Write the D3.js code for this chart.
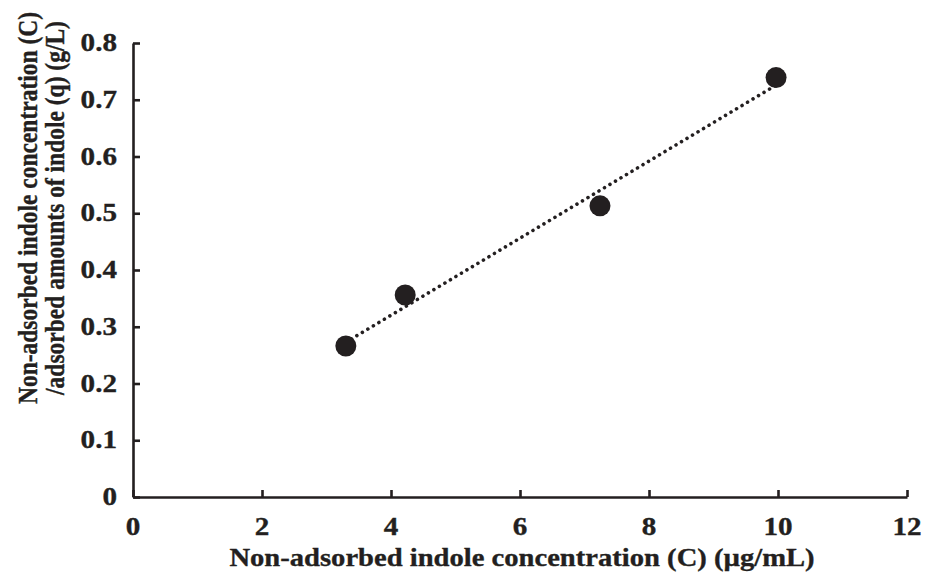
<!DOCTYPE html>
<html>
<head>
<meta charset="utf-8">
<script src="https://cdn.jsdelivr.net/npm/d3@7"></script>
<style>
  html, body { margin: 0; padding: 0; background: #fff; }
  svg { display: block; }
  text { font-family: "Liberation Serif", "Times New Roman", serif; font-weight: bold; fill: #231f20; stroke: #231f20; stroke-width: 0.35px; }
</style>
</head>
<body>
<svg id="chart" width="925" height="574"></svg>
<script>
// Measured concentrations (µg/mL) and C/q ratios (g/L)
const concentration = [3.30, 4.22, 7.24, 9.97];
const ratio = [0.266, 0.356, 0.513, 0.739];
const xTicks = [0, 2, 4, 6, 8, 10, 12];
const yTicks = [0, 0.1, 0.2, 0.3, 0.4, 0.5, 0.6, 0.7, 0.8];
const xTitle = "Non-adsorbed indole concentration (C) (µg/mL)";
const yTitleLines = ["Non-adsorbed indole concentration (C)", "/adsorbed amounts of indole (q) (g/L)"];

const ink = "#231f20";
const svg = d3.select("#chart");
const plot = { left: 133, right: 907, top: 43, bottom: 497 };

const x = d3.scaleLinear().domain([0, 12]).range([plot.left, plot.right]);
const y = d3.scaleLinear().domain([0, 0.8]).range([plot.bottom, plot.top]);

// Axes with ticks pointing into the plot
const xAxis = svg.append("g").attr("transform", `translate(0,${plot.bottom})`)
  .call(d3.axisTop(x).tickValues(xTicks).tickSize(7).tickSizeOuter(0).tickFormat(""));
const yAxis = svg.append("g").attr("transform", `translate(${plot.left},0)`)
  .call(d3.axisRight(y).tickValues(yTicks).tickSize(7).tickSizeOuter(0).tickFormat(""));
[xAxis, yAxis].forEach(g => {
  g.selectAll("path.domain").attr("stroke", ink).attr("stroke-width", 2.6);
  g.selectAll(".tick line").attr("stroke", ink).attr("stroke-width", 2.6);
});

// Tick labels
svg.append("g").selectAll("text").data(xTicks).join("text")
  .attr("transform", d => `translate(${x(d)},535) scale(1.12,1)`)
  .attr("text-anchor", "middle").attr("font-size", 26)
  .text(d => d);
svg.append("g").selectAll("text").data(yTicks).join("text")
  .attr("transform", d => `translate(117,${y(d) + 8}) scale(1.12,1)`)
  .attr("text-anchor", "end").attr("font-size", 26)
  .text(d => d === 0 ? "0" : d3.format(".1f")(d));

// Axis titles
svg.append("text").attr("transform", "translate(522,566) scale(1.1,1)")
  .attr("text-anchor", "middle").attr("font-size", 26).text(xTitle);
const yt = svg.append("text").attr("transform", "translate(37,208) scale(1.2,1) rotate(-90)")
  .attr("text-anchor", "middle").attr("font-size", 23.5);
yTitleLines.forEach((t, i) => yt.append("tspan").attr("x", 0).attr("dy", i === 0 ? 0 : 22.5).text(t));

// Least-squares trend line across the measured range
const mx = d3.mean(concentration), my = d3.mean(ratio);
const slope = d3.sum(concentration, (c, i) => (c - mx) * (ratio[i] - my)) /
              d3.sum(concentration, c => (c - mx) * (c - mx));
const icpt = my - slope * mx;
const ext = d3.extent(concentration);
svg.append("line")
  .attr("x1", x(ext[0])).attr("y1", y(icpt + slope * ext[0]))
  .attr("x2", x(ext[1])).attr("y2", y(icpt + slope * ext[1]))
  .attr("stroke", ink).attr("stroke-width", 3.6)
  .attr("stroke-linecap", "round").attr("stroke-dasharray", "0.01 6.4");

// Data points
svg.append("g").selectAll("circle").data(concentration).join("circle")
  .attr("cx", d => x(d)).attr("cy", (d, i) => y(ratio[i]))
  .attr("r", 10.5).attr("fill", ink);
</script>
</body>
</html>
